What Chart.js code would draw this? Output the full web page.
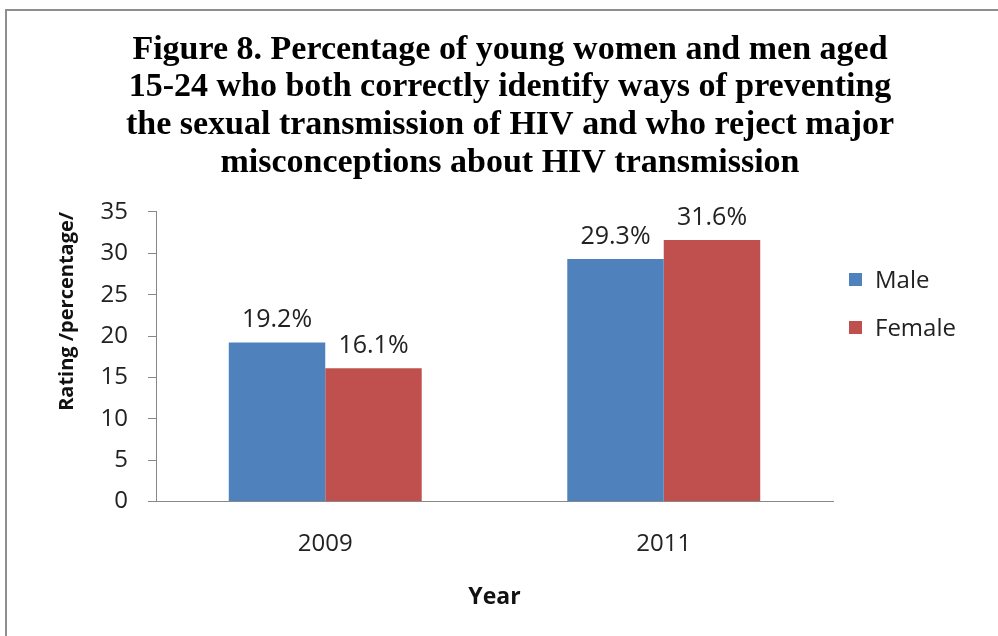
<!DOCTYPE html>
<html>
<head>
<meta charset="utf-8">
<script src="https://cdn.jsdelivr.net/npm/chart.js@4.4.1/dist/chart.umd.min.js"></script>
<style>
  body { margin: 0; background: #fff; overflow: hidden; }
  #frame { position: absolute; left: 5px; top: 9px; width: 2000px; height: 2000px;
           border-left: 2px solid #8e8e8e; border-top: 2px solid #8e8e8e; }
  #grafico { position: absolute; left: 0; top: 0; }
</style>
</head>
<body>
<div id="frame"></div>
<canvas id="grafico" width="998" height="636"></canvas>
<script>
var anni = ['2009', '2011'];
var maschi = [19.2, 29.3];
var femmine = [16.1, 31.6];
var titolo = [
  'Figure 8. Percentage of young women and men aged',
  '15-24 who both correctly identify ways of preventing',
  'the sexual transmission of HIV and who reject major',
  'misconceptions about HIV transmission'
];

// etichette sopra le barre
var etichette = {
  id: 'etichette',
  afterDatasetsDraw: function(chart){
    var ctx = chart.ctx;
    ctx.save();
    ctx.font = '25px "Open Sans"';
    ctx.fillStyle = '#222';
    ctx.textAlign = 'center';
    ctx.textBaseline = 'bottom';
    chart.data.datasets.forEach(function(ds, i){
      chart.getDatasetMeta(i).data.forEach(function(bar, j){
        ctx.fillText(ds.data[j].toFixed(1) + '%', bar.x, bar.y - 10);
      });
    });
    ctx.restore();
  }
};

// legenda a destra
var legenda = {
  id: 'legenda',
  afterDraw: function(chart){
    var ctx = chart.ctx;
    var x = chart.chartArea.right + 16;
    ctx.save();
    ctx.font = '24px "Open Sans"';
    ctx.textBaseline = 'middle';
    chart.data.datasets.forEach(function(ds, i){
      var y = 280 + i * 48;
      ctx.fillStyle = ds.backgroundColor;
      ctx.fillRect(x, y - 7, 13, 13);
      ctx.fillStyle = '#222';
      ctx.fillText(ds.label, x + 26, y + 1);
    });
    ctx.restore();
  }
};

var ctx = document.getElementById('grafico');
var chart = new Chart(ctx, {
  type: 'bar',
  data: {
    labels: anni,
    datasets: [{
      label: 'Male',
      backgroundColor: '#4f81bd',
      data: maschi
    }, {
      label: 'Female',
      backgroundColor: '#c0504d',
      data: femmine
    }]
  },
  plugins: [etichette, legenda],
  options: {
    responsive: false,
    animation: false,
    devicePixelRatio: 1,
    layout: { padding: { left: 55, right: 33, top: 0, bottom: 25 } },
    datasets: { bar: { barPercentage: 1, categoryPercentage: 0.57 } },
    plugins: {
      legend: { display: false },
      tooltip: { enabled: false },
      title: {
        display: true,
        text: titolo,
        color: '#000',
        font: { family: '"Liberation Serif"', size: 34, weight: 'bold', lineHeight: 1.11 },
        padding: { top: 31, bottom: 30 }
      }
    },
    scales: {
      x: {
        grid: { display: false, drawTicks: false },
        border: { display: true, color: '#888', width: 1 },
        ticks: { color: '#222', padding: 31, font: { family: '"Open Sans"', size: 24, lineHeight: 1 } },
        title: {
          display: true, text: 'Year', color: '#111',
          font: { family: '"Open Sans"', size: 23, weight: 'bold', lineHeight: 1.2 },
          padding: { top: -4, bottom: 0 }
        }
      },
      y: {
        min: 0, max: 35,
        afterFit: function(scale){ scale.width = 101; },
        ticks: { stepSize: 5, color: '#222', padding: 20, font: { family: '"Open Sans"', size: 24 } },
        grid: { drawOnChartArea: false, tickLength: 8, color: '#888' },
        border: { display: true, color: '#888', width: 1 },
        title: {
          display: true, text: 'Rating /percentage/', color: '#111', align: 'end',
          font: { family: '"Open Sans"', size: 20, weight: 'bold', lineHeight: 1.2 },
          padding: { top: 0, bottom: 0 }
        }
      },
      y2: {
        type: 'linear',
        position: 'right',
        afterFit: function(scale){ scale.width = 132; },
        grid: { display: false },
        border: { display: false },
        ticks: { display: false }
      }
    }
  }
});
</script>
</body>
</html>
